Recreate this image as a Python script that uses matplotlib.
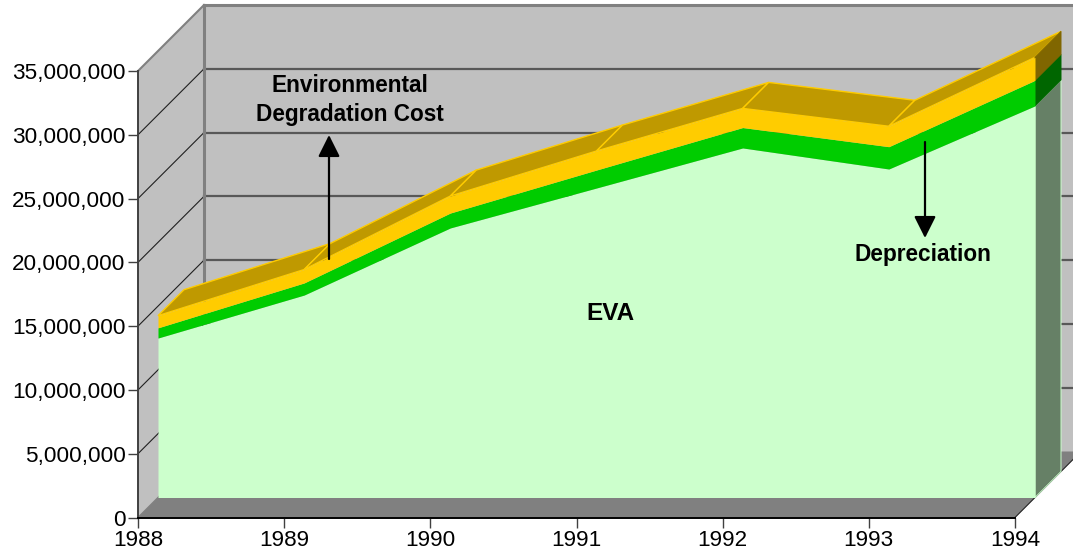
import matplotlib
matplotlib.use('Agg')
import matplotlib.pyplot as plt
import numpy as np

plt.rcParams['font.family'] = ['Liberation Sans', 'DejaVu Sans']

years = ['1988', '1989', '1990', '1991', '1992', '1993', '1994']
eva = [12500000, 15870000, 21130000, 24260000, 27400000, 25750000, 30700000]
depreciation = [800000, 950000, 1170000, 1410000, 1600000, 1750000, 2000000]
env_cost = [950000, 1050000, 1330000, 1490000, 1500000, 1600000, 1800000]
y_ticks = [0, 5000000, 10000000, 15000000, 20000000, 25000000, 30000000, 35000000]

W, H = 1073, 558
fig = plt.figure(figsize=(W / 100, H / 100), dpi=100, facecolor='white')
ax = fig.add_axes([138 / W, (H - 517.5) / H, 877 / W, 446.5 / H])
x = np.arange(len(years))
ax.set_xlim(0, 6)
ax.set_ylim(0, 35000000)

px_x = 877 / 6
px_y = 446.5 / 35000000


def deep(xs, ys, d):
    # move points back into the 3d depth, d is in pixels
    return np.asarray(xs, float) + d / px_x, np.asarray(ys, float) + d / px_y


def face(xs, ys, **kw):
    ax.fill(xs, ys, clip_on=False, **kw)


WALL = 66
NEAR = 20
FAR = 46
xmax = 6
ymax = y_ticks[-1]

# walls and floor
bx, by = deep([0, xmax, xmax, 0], [0, 0, ymax, ymax], WALL)
face(bx, by, color='#c0c0c0', lw=0, zorder=1)
lx0, ly0 = deep([0, 0], [0, ymax], WALL)
face([0, lx0[0], lx0[1], 0], [0, ly0[0], ly0[1], ymax], color='#c0c0c0', lw=0, zorder=1)
fx, fy = deep([xmax, 0], [0, 0], WALL)
face([0, xmax, fx[0], fx[1]], [0, 0, fy[0], fy[1]], color='#808080', lw=0, zorder=1)

# gridlines
for v in y_ticks[1:-1]:
    gx, gy = deep([0, xmax], [v, v], WALL)
    ax.plot([0, gx[0]], [v, gy[0]], color='#202020', lw=0.8, clip_on=False, zorder=2)
    ax.plot(gx, gy, color='#585858', lw=1.6, clip_on=False, zorder=2)
ax.plot([0, lx0[1]], [ymax, ly0[1]], color='#808080', lw=1.5, clip_on=False, zorder=2)
ax.plot(lx0, ly0, color='#808080', lw=2.2, clip_on=False, zorder=2)
ax.plot(bx[2:], by[2:], color='#808080', lw=2.2, clip_on=False, zorder=2)
ax.plot([0, fx[1]], [0, fy[1]], color='#808080', lw=1, clip_on=False, zorder=2)
ax.plot([xmax, fx[0]], [0, fy[0]], color='#202020', lw=0.8, clip_on=False, zorder=2)

# stacked tops
top1 = np.array(eva, float)
top2 = top1 + np.array(depreciation)
top3 = top2 + np.array(env_cost)

# sloped top of the highest layer
for i in range(len(x) - 1):
    ax_f, ay_f = deep(x[i:i + 2], top3[i:i + 2], NEAR)
    ax_b, ay_b = deep(x[i:i + 2], top3[i:i + 2], FAR)
    face([ax_f[0], ax_f[1], ax_b[1], ax_b[0]], [ay_f[0], ay_f[1], ay_b[1], ay_b[0]],
         facecolor='#bf9900', edgecolor='#ffcc00', lw=1, zorder=3)

# right hand side faces
layers = [(np.zeros(len(x)), top1, '#668066', '#ccffcc'),
          (top1, top2, '#006600', '#006600'),
          (top2, top3, '#806600', '#806600')]
for low, high, col, edge in layers:
    sx_f, sy_f = deep([xmax, xmax], [low[-1], high[-1]], NEAR)
    sx_b, sy_b = deep([xmax, xmax], [low[-1], high[-1]], FAR)
    face([sx_f[0], sx_f[1], sx_b[1], sx_b[0]], [sy_f[0], sy_f[1], sy_b[1], sy_b[0]],
         facecolor=col, edgecolor=edge, lw=0.7, zorder=3)

# front faces
for low, high, col in [(np.zeros(len(x)), top1, '#ccffcc'), (top1, top2, '#00cc00'), (top2, top3, '#ffcc00')]:
    px, pl = deep(x, low, NEAR)
    px, ph = deep(x, high, NEAR)
    ax.fill_between(px, pl, ph, color=col, lw=0, clip_on=False, zorder=4)

# axes
ax.set_facecolor('none')
for s in ['top', 'right']:
    ax.spines[s].set_visible(False)
ax.spines['left'].set_color('#404040')
ax.spines['left'].set_linewidth(1.4)
ax.spines['bottom'].set_color('#000000')
ax.spines['bottom'].set_linewidth(1.4)
ax.spines['left'].set_zorder(6)
ax.spines['bottom'].set_zorder(6)
ax.set_xticks(x)
ax.set_xticklabels(years)
ax.set_yticks(y_ticks)
ax.set_yticklabels([f'{v:,}' for v in y_ticks])
ax.tick_params(axis='both', length=7, width=1, color='#404040', labelsize=16.2, colors='black', pad=2)


def tx(s, cx, cy, size=16.3):
    fig.text(cx / W, 1 - cy / H, s, ha='center', va='center', fontsize=size, fontweight='bold', color='black', zorder=8)


def arrow(x0, y0, x1, y1):
    fig.add_artist(matplotlib.patches.FancyArrowPatch(
        (x0 / W, 1 - y0 / H), (x1 / W, 1 - y1 / H), transform=fig.transFigure,
        arrowstyle='-|>,head_length=1.4,head_width=0.7', mutation_scale=9.5,
        color='black', lw=1.6, shrinkA=0, shrinkB=0, zorder=8))


tx('Environmental', 350, 86)
tx('Degradation Cost', 350, 115)
tx('Depreciation', 923, 254)
tx('EVA', 610, 314, 17.5)
arrow(329, 259, 329, 135)
arrow(925, 142, 925, 238)

fig.savefig('out.png', dpi=100, facecolor='white')
